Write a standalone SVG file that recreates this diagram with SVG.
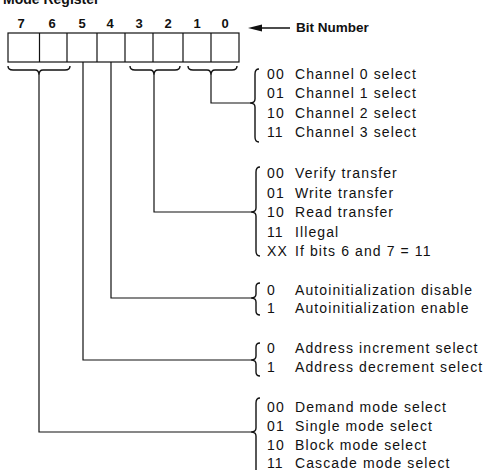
<svg xmlns="http://www.w3.org/2000/svg" width="490" height="470" viewBox="0 0 490 470">
<style>
.t{font-family:"Liberation Sans",Arial,sans-serif;font-size:14px;letter-spacing:1.1px;fill:#111}
.b{font-family:"Liberation Sans",Arial,sans-serif;font-weight:bold;fill:#111}
.ln{fill:none;stroke:#111;stroke-width:1.2}
.br{fill:none;stroke:#111;stroke-width:1.4}
</style>
<rect width="490" height="470" fill="#fff"/>
<text class="b" x="3" y="4" font-size="14">Mode Register</text>
<g id="register">
<rect x="8" y="33" width="231" height="29" class="ln" stroke-width="1.4"/>
<path class="ln" d="M39.5,33V62M67,33V62M97,33V62M125,33V62M153,33V62M183,33V62M211,33V62"/>
<g class="b" font-size="13" text-anchor="middle">
<text x="21" y="28">7</text><text x="52" y="28">6</text><text x="82" y="28">5</text><text x="110" y="28">4</text>
<text x="139" y="28">3</text><text x="168" y="28">2</text><text x="197" y="28">1</text><text x="225" y="28">0</text>
</g>
</g>
<g id="bitnumber">
<polygon points="248,28 262,24.5 262,31.5" fill="#111"/>
<line x1="260" y1="28" x2="290" y2="28" stroke="#111" stroke-width="1.5"/>
<text class="b" x="296" y="32" font-size="13.5">Bit Number</text>
</g>
<g id="connectors">
<path class="br" d="M8,66Q8,70 13,70L35,70Q39,70 39,75Q39,70 43,70L65,70Q70,70 70,66"/>
<path class="br" d="M130,66Q130,70 135,70L150,70Q154,70 154,75Q154,70 158,70L175,70Q180,70 180,66"/>
<path class="br" d="M188,66Q188,70 193,70L207,70Q211,70 211,75Q211,70 215,70L232,70Q237,70 237,66"/>
<path class="ln" d="M211,75V103H250"/>
<path class="ln" d="M154,75V212H251"/>
<path class="ln" d="M111,62V298H251"/>
<path class="ln" d="M83,62V360H251"/>
<path class="ln" d="M39,75V432H251"/>
</g>
<g id="channel">
<path class="br" d="M259,69Q255,69 255,74L255,99Q255,103 250,103Q255,103 255,107L255,137Q255,142 259,142"/>
<text class="t" y="79"><tspan x="267">00</tspan><tspan x="295">Channel 0 select</tspan></text>
<text class="t" y="98.3"><tspan x="267">01</tspan><tspan x="295">Channel 1 select</tspan></text>
<text class="t" y="117.6"><tspan x="267">10</tspan><tspan x="295">Channel 2 select</tspan></text>
<text class="t" y="137"><tspan x="267">11</tspan><tspan x="295">Channel 3 select</tspan></text>
</g>
<g id="transfer">
<path class="br" d="M260,167Q256,167 256,172L256,208Q256,212 251,212Q256,212 256,216L256,251Q256,256 260,256"/>
<text class="t" y="178"><tspan x="267">00</tspan><tspan x="295">Verify transfer</tspan></text>
<text class="t" y="197.5"><tspan x="267">01</tspan><tspan x="295">Write transfer</tspan></text>
<text class="t" y="217"><tspan x="267">10</tspan><tspan x="295">Read transfer</tspan></text>
<text class="t" y="236.5"><tspan x="267">11</tspan><tspan x="295">Illegal</tspan></text>
<text class="t" y="256"><tspan x="267">XX</tspan><tspan x="295">If bits 6 and 7 = 11</tspan></text>
</g>
<g id="autoinit">
<path class="br" d="M260,283Q256,283 256,287L256,294Q256,298 251,298Q256,298 256,302L256,311Q256,315 260,315"/>
<text class="t" y="295"><tspan x="267">0</tspan><tspan x="295">Autoinitialization disable</tspan></text>
<text class="t" y="313"><tspan x="267">1</tspan><tspan x="295">Autoinitialization enable</tspan></text>
</g>
<g id="address">
<path class="br" d="M260,343Q256,343 256,347L256,356Q256,360 251,360Q256,360 256,364L256,372Q256,376 260,376"/>
<text class="t" y="353"><tspan x="267">0</tspan><tspan x="295">Address increment select</tspan></text>
<text class="t" y="372"><tspan x="267">1</tspan><tspan x="295">Address decrement select</tspan></text>
</g>
<g id="mode">
<path class="br" d="M260,398Q256,398 256,403L256,428Q256,432 251,432Q256,432 256,436L256,470Q256,475 260,475"/>
<text class="t" y="412"><tspan x="267">00</tspan><tspan x="295">Demand mode select</tspan></text>
<text class="t" y="431"><tspan x="267">01</tspan><tspan x="295">Single mode select</tspan></text>
<text class="t" y="449.5"><tspan x="267">10</tspan><tspan x="295">Block mode select</tspan></text>
<text class="t" y="468"><tspan x="267">11</tspan><tspan x="295">Cascade mode select</tspan></text>
</g>
</svg>
